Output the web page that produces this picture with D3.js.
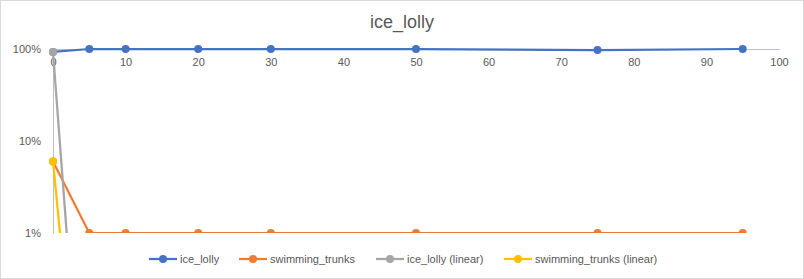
<!DOCTYPE html>
<html>
<head>
<meta charset="utf-8">
<script src="https://cdn.jsdelivr.net/npm/d3@7"></script>
<style>
  body { margin: 0; background: #fff; }
  text { font-family: "Liberation Sans", Arial, sans-serif; fill: #595959; }
</style>
</head>
<body>
<div id="chart"></div>
<script>
/* DATA */
const xValues = [0, 5, 10, 20, 30, 50, 75, 95];
const iceLolly = [0.93, 1, 1, 1, 1, 1, 0.975, 1];
const swimmingTrunks = [0.06, 0.01, 0.01, 0.01, 0.01, 0.01, 0.01, 0.01];
const linearX = [0, 5];
const iceLollyLinear = [0.93, 0.0000056];
const swimmingTrunksLinear = [0.06, 0.0000056];
const xTicks = [0, 10, 20, 30, 40, 50, 60, 70, 80, 90, 100];
const yTicks = [1, 0.1, 0.01];

const seriesNames = ["ice_lolly", "swimming_trunks", "ice_lolly (linear)", "swimming_trunks (linear)"];
const colors = ["#4472C4", "#ED7D31", "#A5A5A5", "#FFC000"];

/* CONSTANTS */
const width = 804,
  height = 279,
  margin = { top: 49, bottom: 46, left: 53, right: 25 },
  radius = 4;

const series = [
  { name: seriesNames[0], xs: xValues, ys: iceLolly },
  { name: seriesNames[1], xs: xValues, ys: swimmingTrunks },
  { name: seriesNames[2], xs: linearX, ys: iceLollyLinear },
  { name: seriesNames[3], xs: linearX, ys: swimmingTrunksLinear }
];

const svg = d3.select("#chart")
  .append("svg")
  .attr("width", width)
  .attr("height", height);

// chart border
svg.append("rect")
  .attr("x", 0.5).attr("y", 0.5)
  .attr("width", width - 1).attr("height", height - 1)
  .attr("fill", "#fff")
  .attr("stroke", "#d9d9d9");

// + SCALES
const xScale = d3.scaleLinear()
  .domain([0, 100])
  .range([margin.left, width - margin.right]);

const yScale = d3.scaleLog()
  .domain([0.01, 1])
  .range([height - margin.bottom, margin.top]);

svg.append("defs").append("clipPath")
  .attr("id", "plot-clip")
  .append("rect")
  .attr("x", margin.left - 10)
  .attr("y", margin.top - 10)
  .attr("width", width - margin.left - margin.right + 20)
  .attr("height", height - margin.top - margin.bottom + 10);

// title
svg.append("text")
  .attr("x", width / 2)
  .attr("y", 28)
  .attr("text-anchor", "middle")
  .attr("font-size", 18)
  .text("ice_lolly");

// + AXES
const xAxis = d3.axisBottom(xScale)
  .tickValues(xTicks)
  .tickSize(0)
  .tickPadding(9);

const yAxis = d3.axisLeft(yScale)
  .tickValues(yTicks)
  .tickSize(0)
  .tickPadding(12)
  .tickFormat(d3.format(".0%"));

svg.append("g")
  .attr("class", "axis x-axis")
  .attr("transform", `translate(0,${yScale(1)})`)
  .call(xAxis)
  .call(g => g.select(".domain").attr("stroke", "#bfbfbf"))
  .call(g => g.selectAll("text").attr("font-size", 11).attr("fill", "#595959"));

svg.append("g")
  .attr("class", "axis y-axis")
  .attr("transform", `translate(${xScale(0)},0)`)
  .call(yAxis)
  .call(g => g.select(".domain").attr("stroke", "#bfbfbf"))
  .call(g => g.selectAll("text").attr("font-size", 11).attr("fill", "#595959"));

// + LINES
const line = d3.line()
  .x(d => xScale(d[0]))
  .y(d => yScale(d[1]));

const plot = svg.append("g").attr("clip-path", "url(#plot-clip)");

series.forEach((s, i) => {
  const pts = s.xs.map((x, j) => [x, s.ys[j]]);
  plot.append("path")
    .datum(pts)
    .attr("fill", "none")
    .attr("stroke", colors[i])
    .attr("stroke-width", 2.25)
    .attr("stroke-linejoin", "round")
    .attr("d", line);
  plot.selectAll(".dot-" + i)
    .data(pts.filter(d => d[1] >= 0.01))
    .join("circle")
    .attr("class", "dot-" + i)
    .attr("cx", d => xScale(d[0]))
    .attr("cy", d => yScale(d[1]))
    .attr("r", radius)
    .attr("fill", colors[i]);
});

// + LEGEND
const legendX = [149, 239, 376, 504];
const legend = svg.append("g").attr("transform", "translate(0,259)");
seriesNames.forEach((name, i) => {
  const g = legend.append("g").attr("transform", `translate(${legendX[i]},0)`);
  g.append("line")
    .attr("x1", 0).attr("x2", 28)
    .attr("stroke", colors[i])
    .attr("stroke-width", 2.25);
  g.append("circle")
    .attr("cx", 14).attr("r", radius)
    .attr("fill", colors[i]);
  g.append("text")
    .attr("x", 31)
    .attr("dy", "0.35em")
    .attr("font-size", 11)
    .text(name);
});
</script>
</body>
</html>
